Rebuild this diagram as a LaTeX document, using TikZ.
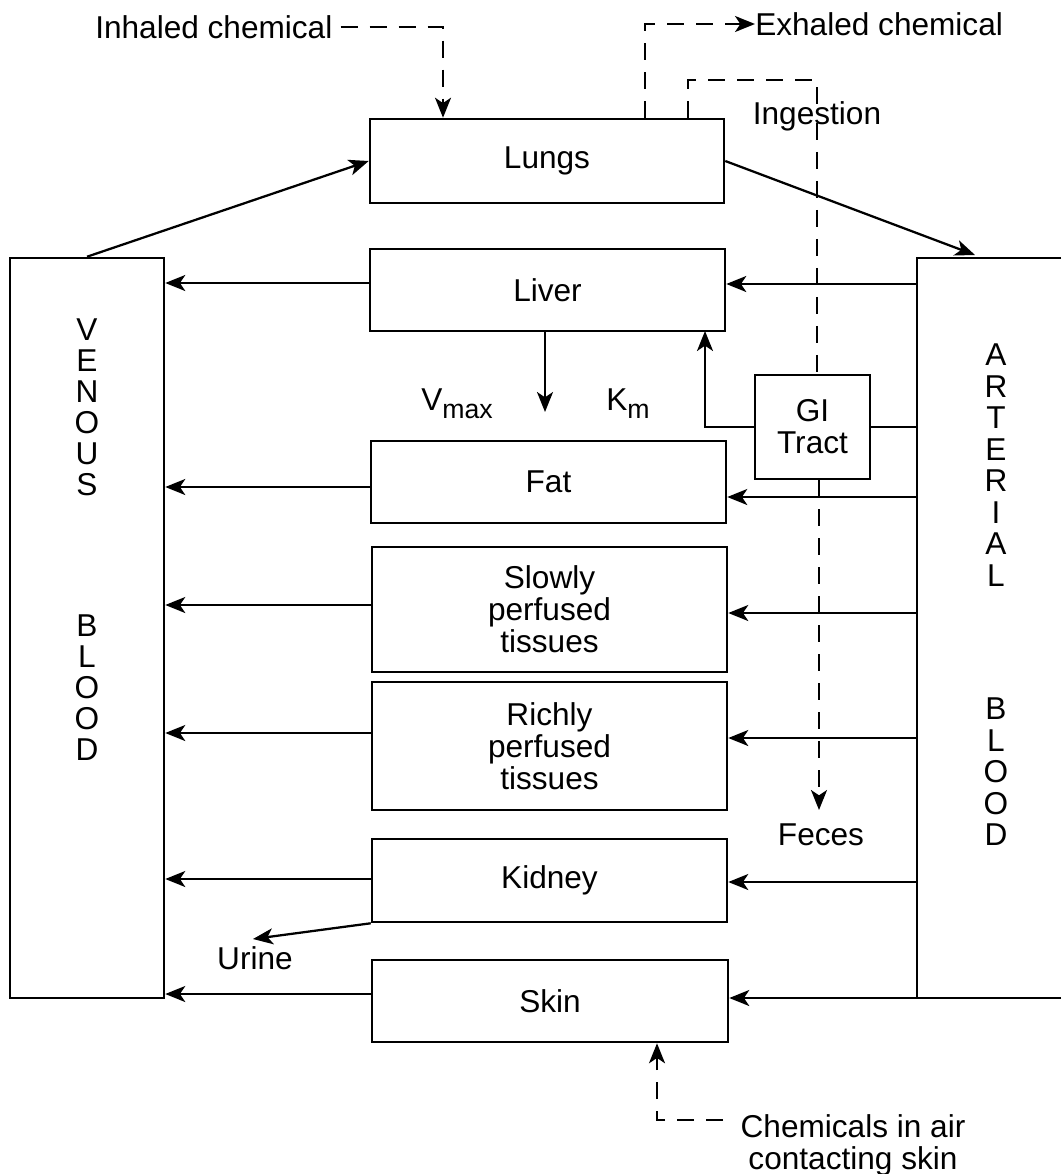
\documentclass[tikz,border=0pt]{standalone}
\usepackage{fontspec}
\setmainfont{Liberation Sans}
\usetikzlibrary{arrows.meta,fit,calc}
\newcommand\lblfont{\fontsize{23.7}{24}\selectfont}
\newcommand\subfont{\fontsize{20}{20}\selectfont}
\begin{document}
\begin{tikzpicture}[x=0.75pt,y=-0.75pt,
  box/.style={draw, line width=1.9pt, inner sep=0pt},
  txt/.style={inner sep=0pt, align=center, font=\lblfont},
  arr/.style={line width=1.7pt, -{Stealth[length=15pt,width=12pt,inset=4pt]}},
  con/.style={line width=1.7pt},
  dsh/.style={line width=1.7pt, dash pattern=on 12.75pt off 9pt},
]
\path[fill=white, use as bounding box] (0,0) rectangle (1061,1174);

% compartments
\node[box, fit={(370,119) (724,203)}] (lungs) {};
\node[box, fit={(370,249) (725,331)}] (liver) {};
\node[box, fit={(371,441) (726,523)}] (fat) {};
\node[box, fit={(372,547) (727,672)}] (slow) {};
\node[box, fit={(372,682) (727,810)}] (rich) {};
\node[box, fit={(372,839) (727,922)}] (kidney) {};
\node[box, fit={(372,960) (728,1042)}] (skin) {};
\node[box, fit={(755,375) (870,479)}] (gi) {};
\node[box, fit={(10,258) (164,998)}] (ven) {};
\node[inner sep=0pt, outer sep=0pt, fit={(917,258) (1061,998)}] (art) {};
\draw[line width=1.9pt] (art.north east) -- (art.north west) -- (art.south west) -- (art.south east);

\node[txt] (lungsT) at (lungs) {Lungs};
\node[txt] (liverT) at (liver) {Liver};
\node[txt] (fatT) at (fat) {Fat};
\node[txt] (slowT) at (slow) {Slowly\\perfused\\tissues};
\node[txt] (richT) at (rich) {Richly\\perfused\\tissues};
\node[txt] (kidneyT) at (kidney) {Kidney};
\node[txt] (skinT) at (skin) {Skin};
\node[txt] (giT) at (gi) {GI\\Tract};

% blood labels
\foreach \l [count=\i from 0] in {V,E,N,O,U,S}
  \node[txt] (vu\i) at (87,{330+31*\i}) {\l};
\foreach \l [count=\i from 0] in {B,L,O,O,D}
  \node[txt] (vl\i) at (87,{626+31*\i}) {\l};
\foreach \l [count=\i from 0] in {A,R,T,E,R,I,A,L}
  \node[txt] (au\i) at (996,{355+31.5*\i}) {\l};
\foreach \l [count=\i from 0] in {B,L,O,O,D}
  \node[txt] (al\i) at (996,{709+31.5*\i}) {\l};

% lungs circulation
\coordinate (artin) at (975,255);
\draw[arr] (ven.north) -- (lungs.west);
\draw[arr] (lungs.east) -- (artin);

% arterial to organs
\draw[arr] (art.west |- 0,284) -- (liver.east |- 0,284);
\draw[arr] (art.west |- 0,497) -- (fat.east |- 0,497);
\draw[arr] (art.west |- 0,613) -- (slow.east |- 0,613);
\draw[arr] (art.west |- 0,738) -- (rich.east |- 0,738);
\draw[arr] (art.west |- 0,882) -- (kidney.east |- 0,882);
\draw[arr] (art.south east) -- (skin.east |- art.south east);

% organs to venous
\draw[arr] (liver.west |- 0,283) -- (ven.east |- 0,283);
\draw[arr] (fat.west |- 0,487) -- (ven.east |- 0,487);
\draw[arr] (slow.west |- 0,605) -- (ven.east |- 0,605);
\draw[arr] (rich.west |- 0,733) -- (ven.east |- 0,733);
\draw[arr] (kidney.west |- 0,879) -- (ven.east |- 0,879);
\draw[arr] (skin.west |- 0,994) -- (ven.east |- 0,994);

% metabolism
\node[txt] (vmax) at (457,404) {V\raisebox{-6pt}{\subfont max}};
\node[txt] (km) at (628,404) {K\raisebox{-6pt}{\subfont m}};
\coordinate (met) at (545,412);
\draw[arr] (liver.south -| met) -- (met);

% GI tract
\coordinate (gl) at (705,331);
\draw[arr] (gi.west) -| (gl);
\draw[con] (gi.east) -- (art.west |- gi.east);

% urine
\node[txt] (urine) at (255,958) {Urine};
\coordinate (ur) at (253,939);
\draw[arr] (kidney.south west) -- (ur);

% inhaled / exhaled
\node[txt, anchor=west] (inh) at (95,27) {Inhaled chemical};
\draw[dsh, arr] ([xshift=6pt]inh.east) -| (lungs.north -| 443,0);
\node[txt, anchor=west] (exh) at (755,24) {Exhaled chemical};
\draw[dsh, arr] (lungs.north -| 645,0) |- (exh.west);

% ingestion
\node[txt] (ing) at (817,116) {Ingestion};
\coordinate (ingc) at (817,80);
\draw[dsh] (lungs.north -| 688,0) |- (ingc) -- ([yshift=-6pt]ing.north);
\draw[dsh] ([yshift=6pt]ing.south) -- (gi.north -| ing.south);

% feces
\node[txt] (feces) at (821,835) {Feces};
\coordinate (fec) at (819,810);
\draw[dsh, arr] (gi.south -| fec) -- (fec);

% skin exposure
\node[txt, anchor=north] (air) at (853,1114) {Chemicals in air\\contacting skin};
\coordinate (airc) at (723,1120);
\draw[dsh, arr] (airc) -| (skin.south -| 657,0);
\end{tikzpicture}
\end{document}
